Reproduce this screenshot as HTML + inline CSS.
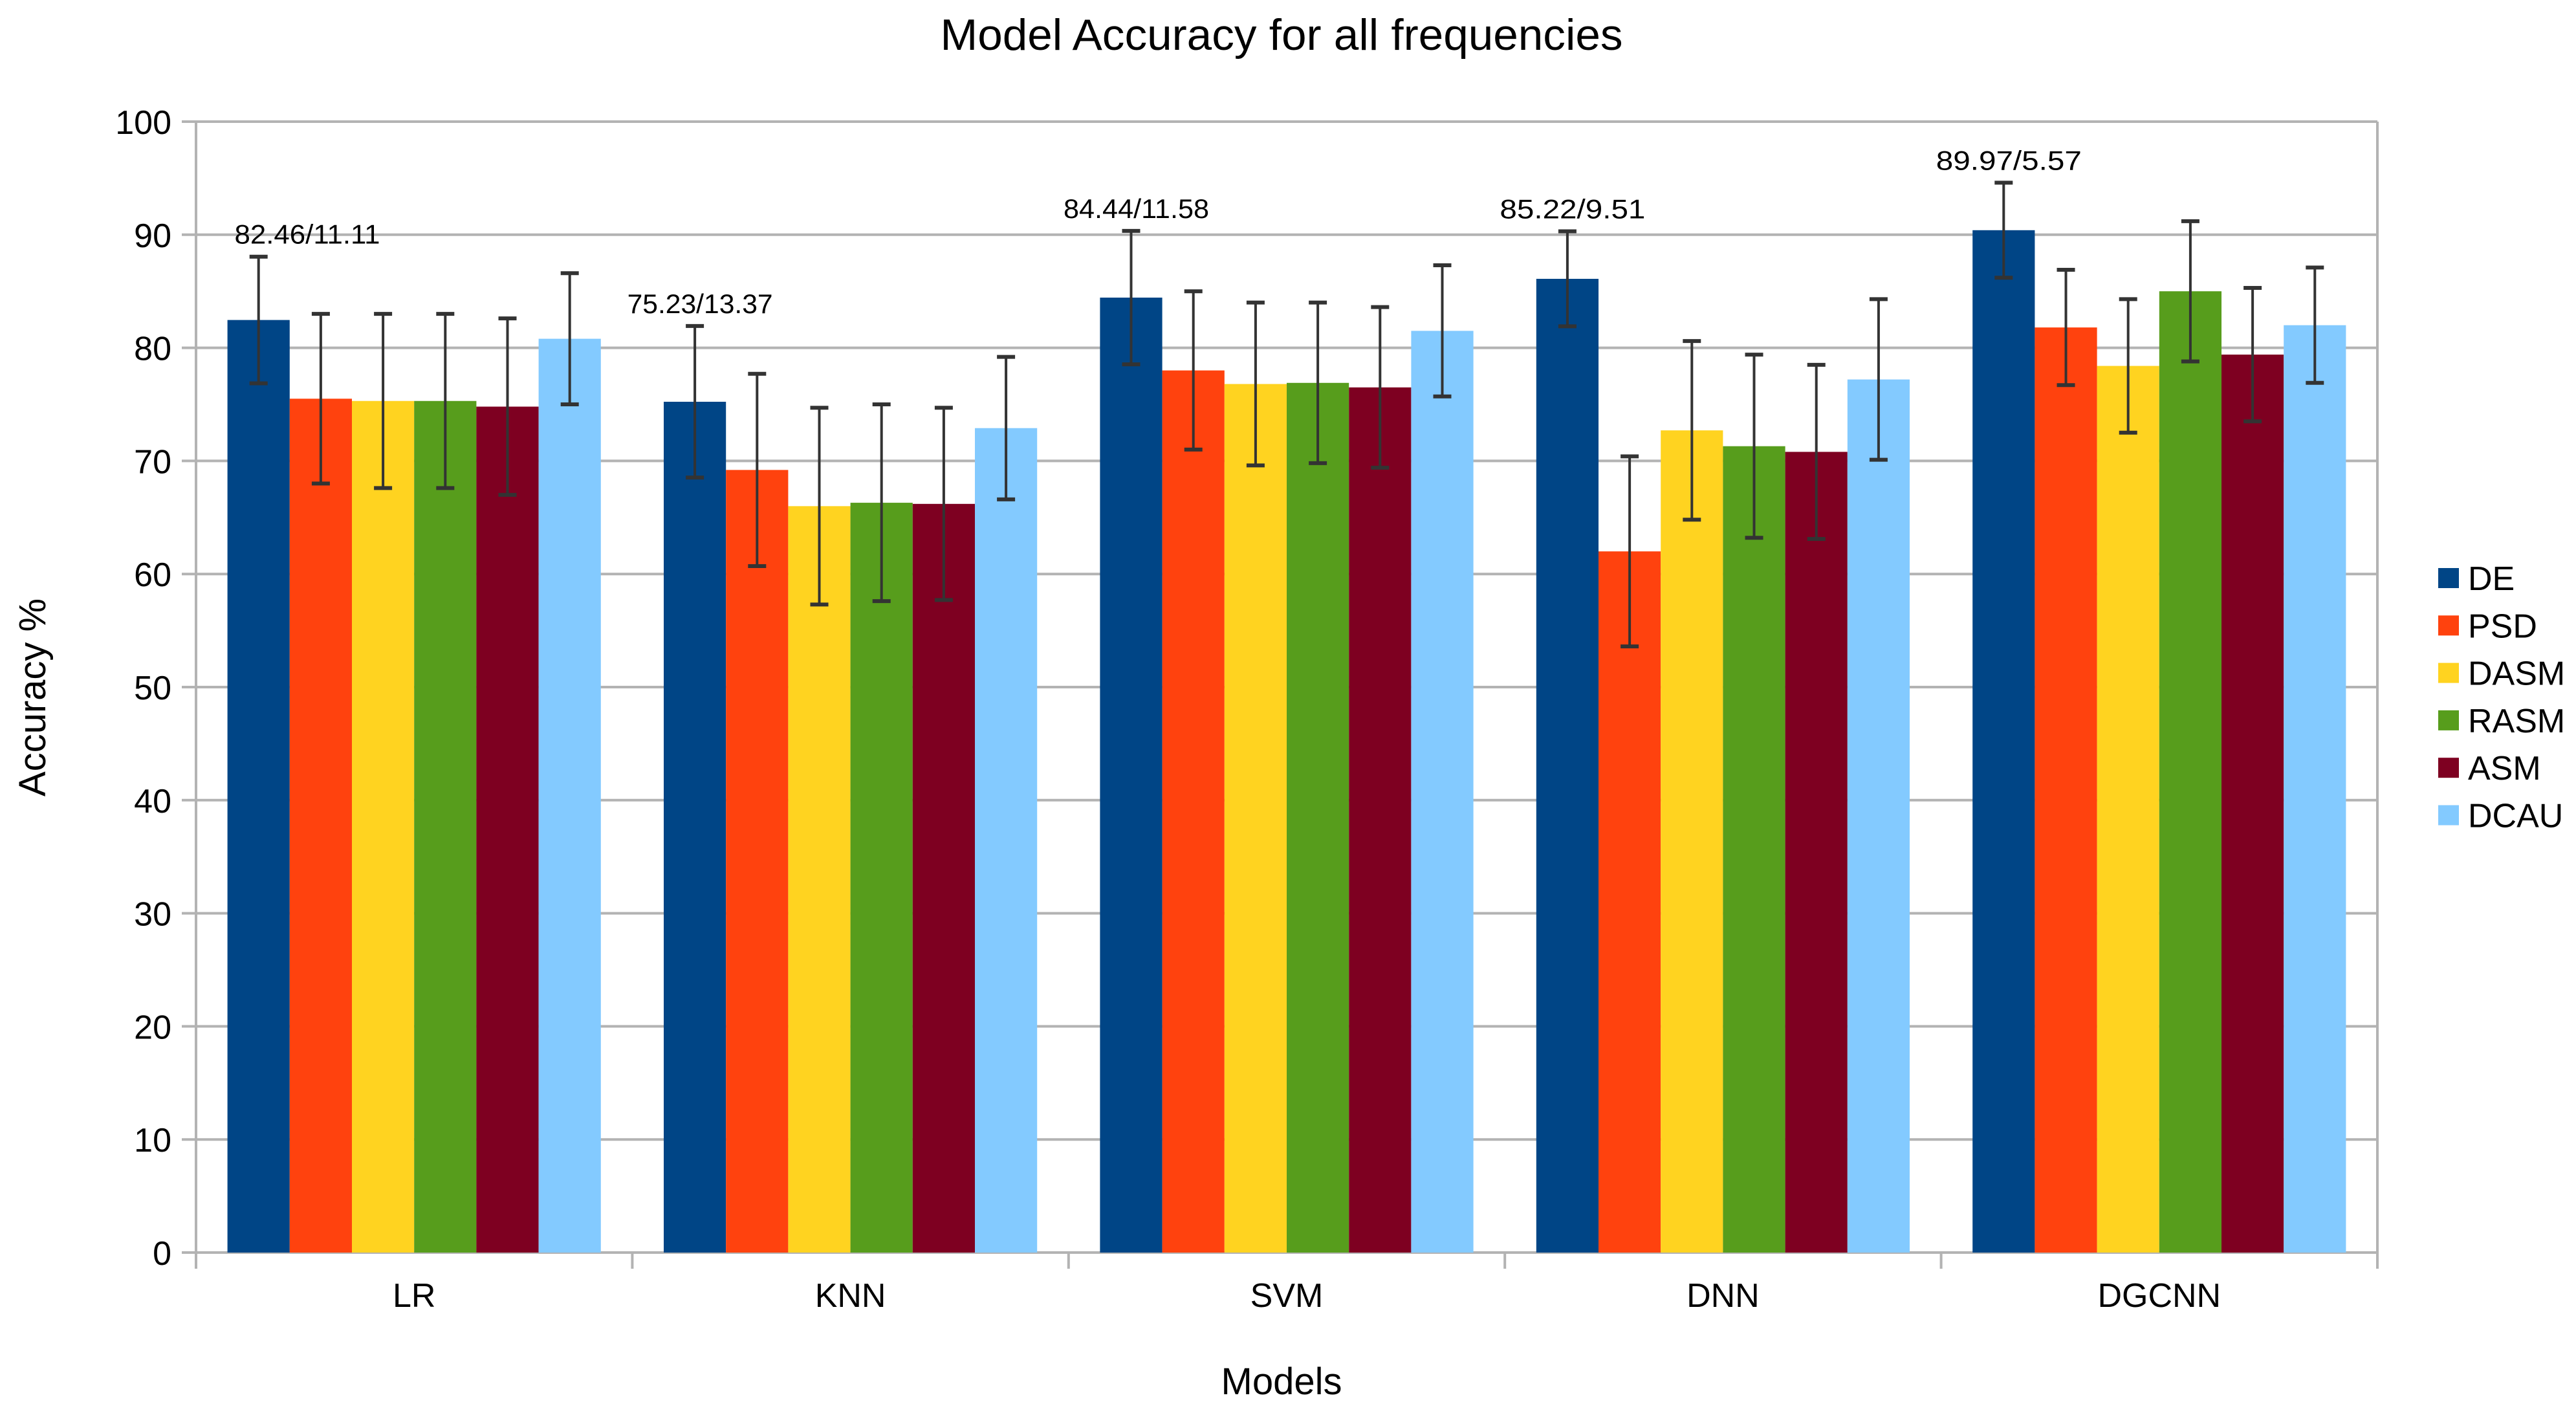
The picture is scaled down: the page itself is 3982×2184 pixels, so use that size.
<!DOCTYPE html>
<html><head><meta charset="utf-8"><style>
html,body{margin:0;padding:0;background:#fff;}
svg{display:block;font-family:"Liberation Sans",sans-serif;}
</style></head><body>
<svg id="chart" width="3982" height="2184" viewBox="0 0 3982 2184">
<text x="1981" y="77" font-size="68" text-anchor="middle" textLength="1055" lengthAdjust="spacingAndGlyphs">Model Accuracy for all frequencies</text>
<g id="grid"></g>
<g id="bars"></g>
<g id="axes"></g>
<text transform="translate(70,1078) rotate(-90)" font-size="58" text-anchor="middle">Accuracy %</text>
<text x="1981" y="2155" font-size="58" text-anchor="middle">Models</text>
<g id="legend"></g>
</svg>
<script>
const categories = ["LR","KNN","SVM","DNN","DGCNN"];
const seriesNames = ["DE","PSD","DASM","RASM","ASM","DCAU"];
const DE   = [82.46, 75.23, 84.44, 86.1, 90.4];
const PSD  = [75.5, 69.2, 78.0, 62.0, 81.8];
const DASM = [75.3, 66.0, 76.8, 72.7, 78.4];
const RASM = [75.3, 66.3, 76.9, 71.3, 85.0];
const ASM  = [74.8, 66.2, 76.5, 70.8, 79.4];
const DCAU = [80.8, 72.9, 81.5, 77.2, 82.0];
const errDE   = [5.6, 6.7, 5.9, 4.2, 4.2];
const errPSD  = [7.5, 8.5, 7.0, 8.4, 5.1];
const errDASM = [7.7, 8.7, 7.2, 7.9, 5.9];
const errRASM = [7.7, 8.7, 7.1, 8.1, 6.2];
const errASM  = [7.8, 8.5, 7.1, 7.7, 5.9];
const errDCAU = [5.8, 6.3, 5.8, 7.1, 5.1];
const annotations = ["82.46/11.11","75.23/13.37","84.44/11.58","85.22/9.51","89.97/5.57"];
const yTicks = [0,10,20,30,40,50,60,70,80,90,100];

const values = [DE,PSD,DASM,RASM,ASM,DCAU];
const errors = [errDE,errPSD,errDASM,errRASM,errASM,errDCAU];
const colors = ["#004586","#ff420e","#ffd320","#579d1c","#7e0021","#83caff"];
const NS = "http://www.w3.org/2000/svg";
const X0 = 303, X1 = 3675, Y0 = 1936, Y100 = 188;
const catW = (X1 - X0) / categories.length;
const barW = 96.2;
const y = v => Y0 - (v / 100) * (Y0 - Y100);
const xBar = (c, s) => X0 + c * catW + (catW - barW * seriesNames.length) / 2 + s * barW;
function mk(tag, attrs, parent) {
  const e = document.createElementNS(NS, tag);
  for (const k in attrs) e.setAttribute(k, attrs[k]);
  parent.appendChild(e);
  return e;
}
const grid = document.getElementById('grid');
const axes = document.getElementById('axes');
const bars = document.getElementById('bars');
const legend = document.getElementById('legend');
yTicks.forEach(t => {
  const l = mk('line', {x1: X0 - 22, x2: X1, y1: y(t), y2: y(t), stroke: "#b3b3b3", "stroke-width": 4}, grid);
  
  
  const tx = mk('text', {x: 265, y: y(t) + 19, "font-size": 52, "text-anchor": "end"}, axes);
  tx.textContent = t;
  
  
});
const ya = mk('line', {x1: X0, x2: X0, y1: Y100, y2: Y0 + 25, stroke: "#b3b3b3", "stroke-width": 4}, axes);


const ra = mk('line', {x1: X1, x2: X1, y1: Y100, y2: Y0 + 25, stroke: "#b3b3b3", "stroke-width": 4}, axes);


for (let c = 1; c < categories.length; c++) {
  const tk = mk('line', {x1: X0 + c * catW, x2: X0 + c * catW, y1: Y0, y2: Y0 + 25, stroke: "#b3b3b3", "stroke-width": 4}, axes);
  
  
}
categories.forEach((cat, c) => {
  const tx = mk('text', {x: X0 + (c + 0.5) * catW, y: 2020, "font-size": 52, "text-anchor": "middle"}, axes);
  tx.textContent = cat;
  
  
});
values.forEach((arr, s) => {
  arr.forEach((v, c) => {
    const r = mk('rect', {x: xBar(c, s), y: y(v), width: barW, height: Y0 - y(v), fill: colors[s]}, bars);
    
    
  });
});
values.forEach((arr, s) => {
  arr.forEach((v, c) => {
    const cx = xBar(c, s) + barW / 2, e = errors[s][c];
    const g = mk('g', {stroke: "#333", "stroke-width": 4}, bars);
    
    
    mk('line', {x1: cx, x2: cx, y1: y(v + e), y2: y(v - e)}, g);
    mk('line', {x1: cx - 14, x2: cx + 14, y1: y(v + e), y2: y(v + e), "stroke-width": 6}, g);
    mk('line', {x1: cx - 14, x2: cx + 14, y1: y(v - e), y2: y(v - e), "stroke-width": 6}, g);
  });
});
annotations.forEach((a, c) => {
  const cx = Math.max(xBar(c, 0) + barW / 2 + 8, X0 + 60 + 112);
  const tx = mk('text', {x: cx, y: y(DE[c] + errDE[c]) - 20, "font-size": 42, "text-anchor": "middle", textLength: 225, lengthAdjust: "spacingAndGlyphs"}, bars);
  tx.textContent = a;
  
  
});
seriesNames.forEach((n, s) => {
  const yy = 878 + s * 73.3;
  const r = mk('rect', {x: 3769, y: yy, width: 32, height: 31, fill: colors[s]}, legend);
  
  
  const tx = mk('text', {x: 3815, y: yy + 34, "font-size": 52}, legend);
  tx.textContent = n;
  
  
});
</script>
</body></html>
